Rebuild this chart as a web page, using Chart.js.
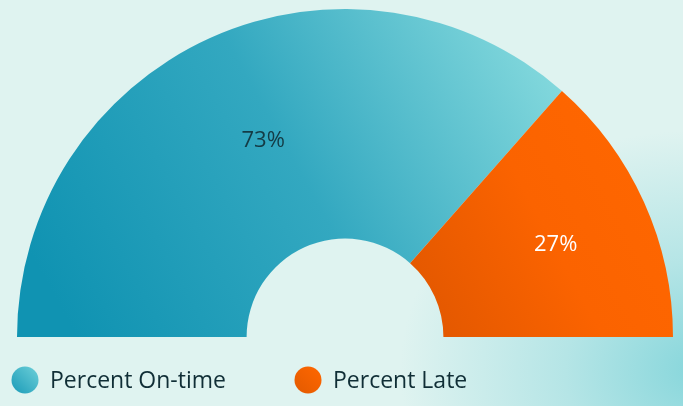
<!DOCTYPE html>
<html>
<head>
<meta charset="utf-8">
<script src="https://cdn.jsdelivr.net/npm/chart.js"></script>
<style>
  html, body { margin: 0; padding: 0; }
  body {
    width: 683px; height: 406px; overflow: hidden;
    background: radial-gradient(ellipse 300px 240px at 700px 370px, #86d6db 0%, #b5e5e6 45%, #dff3f0 100%), #dff3f0;
  }
  #wrap { position: relative; width: 683px; height: 406px; }
</style>
</head>
<body>
<div id="wrap"><canvas id="myChart"></canvas></div>
<script>
// chart data
const labels = ["Percent On-time", "Percent Late"];
const values = [73, 27];
const valueLabels = ["73%", "27%"];

const labelColors = ["#143b45", "#ffffff"];

function onTimeFill(ctx, area) {
  const g = ctx.createLinearGradient(area.left + 60, area.bottom, area.left + 540, area.top + 60);
  g.addColorStop(0, "#1093b2");
  g.addColorStop(0.5, "#33a8c0");
  g.addColorStop(1, "#84d9dd");
  return g;
}

function lateFill(ctx, area) {
  const g = ctx.createLinearGradient(area.left + 400, area.bottom - 40, area.right, area.top + 150);
  g.addColorStop(0, "#e35800");
  g.addColorStop(0.5, "#fb6300");
  g.addColorStop(1, "#ff6700");
  return g;
}

const sliceLabels = {
  id: "sliceLabels",
  afterDatasetsDraw(chart) {
    const c = chart.ctx;
    const meta = chart.getDatasetMeta(0);
    c.save();
    c.font = "500 22px 'Open Sans'";
    c.textAlign = "center";
    c.textBaseline = "middle";
    meta.data.forEach((arc, i) => {
      const p = arc.getProps(["x", "y", "startAngle", "endAngle"]);
      const a = p.startAngle + (p.endAngle - p.startAngle) * 0.513;
      const r = i === 0 ? 213 : 230;
      c.fillStyle = labelColors[i];
      c.fillText(valueLabels[i], p.x + Math.cos(a) * r, p.y + Math.sin(a) * r);
    });
    c.restore();
  }
};

const bottomLegend = {
  id: "bottomLegend",
  afterDraw(chart) {
    const c = chart.ctx;
    const spots = [25, 308];
    c.save();
    c.font = "23px 'Open Sans'";
    c.textBaseline = "middle";
    c.textAlign = "left";
    labels.forEach((lab, i) => {
      const x = spots[i];
      c.beginPath();
      c.arc(x, 380, 13.5, 0, Math.PI * 2);
      const g = c.createLinearGradient(x - 13, 393, x + 13, 367);
      if (i === 0) { g.addColorStop(0, "#1b9bb8"); g.addColorStop(1, "#6ccfd8"); }
      else { g.addColorStop(0, "#e35a00"); g.addColorStop(1, "#ff6700"); }
      c.fillStyle = g;
      c.fill();
      c.fillStyle = "#102e36";
      c.fillText(lab, x + 25, 381);
    });
    c.restore();
  }
};

var ctx = document.getElementById("myChart").getContext("2d");
var myChart = new Chart(ctx, {
  type: "doughnut",
  data: {
    labels: labels,
    datasets: [
      {
        data: values,
        backgroundColor: (context) => {
          const area = context.chart.chartArea;
          if (!area) return "#2fa6bf";
          return context.dataIndex === 0 ? onTimeFill(context.chart.ctx, area) : lateFill(context.chart.ctx, area);
        },
        borderWidth: 0,
        hoverOffset: 0,
      },
    ],
  },
  options: {
    responsive: true,
    maintainAspectRatio: false,
    animation: false,
    rotation: -90,
    circumference: 180,
    cutout: "30%",
    layout: { padding: { left: 17, top: 9, right: 10, bottom: 69 } },
    plugins: {
      legend: { display: false },
      tooltip: { enabled: false },
    },
  },
  plugins: [sliceLabels, bottomLegend],
});
</script>
</body>
</html>
